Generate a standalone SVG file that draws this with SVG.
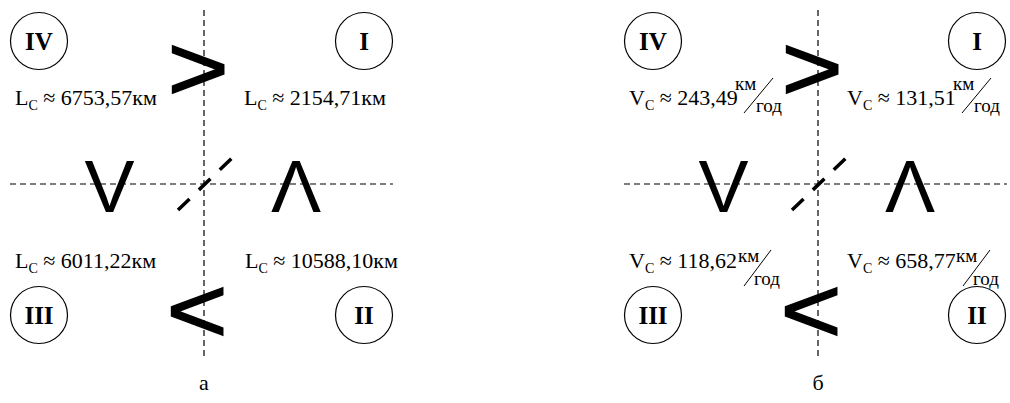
<svg xmlns="http://www.w3.org/2000/svg" width="1010" height="403" viewBox="0 0 1010 403">
<style>
.dash{stroke:#000;stroke-width:1.2;stroke-dasharray:6 4;fill:none}
.diag{stroke:#000;stroke-width:3.5;stroke-dasharray:16 13;fill:none}
.circ{fill:none;stroke:#000;stroke-width:1.2}
.slash{stroke:#000;stroke-width:1;fill:none}
.t{font-family:"Liberation Serif","Times New Roman",serif;font-size:22px;fill:#000}
.s{font-size:14px}
.f{font-family:"Liberation Serif","Times New Roman",serif;font-size:19px;fill:#000}
.rom{font-family:"Liberation Serif","Times New Roman",serif;font-size:25px;font-weight:bold;text-anchor:middle;fill:#000}
.gt{font-family:"Liberation Sans",Arial,sans-serif;font-size:92px;text-anchor:middle;fill:#000;stroke:#000;stroke-width:1.5;stroke-linejoin:miter}
.vv{font-family:"Liberation Sans",Arial,sans-serif;font-size:75px;text-anchor:middle;fill:#000}
.cap{font-family:"Liberation Serif","Times New Roman",serif;font-size:22px;text-anchor:middle;fill:#000}
</style>

<g id="connectors">
  <line class="dash" x1="204" y1="10" x2="204" y2="357"/>
  <line class="dash" x1="10" y1="184" x2="393" y2="184"/>
  <line class="diag" x1="178" y1="210" x2="232" y2="158"/>
  <line class="dash" x1="818" y1="10" x2="818" y2="357"/>
  <line class="dash" x1="624" y1="184" x2="1007" y2="184"/>
  <line class="diag" x1="792" y1="210" x2="846" y2="158"/>
</g>

<!-- panel a -->
<g id="a-IV"><circle class="circ" cx="39" cy="41" r="28.5"/><text class="rom" x="39" y="49.5">IV</text></g>
<g id="a-I"><circle class="circ" cx="364" cy="41" r="28.5"/><text class="rom" x="364" y="49.5">I</text></g>
<g id="a-III"><circle class="circ" cx="39" cy="315" r="28.5"/><text class="rom" x="39" y="323.5">III</text></g>
<g id="a-II"><circle class="circ" cx="364" cy="315" r="28.5"/><text class="rom" x="364" y="323.5">II</text></g>

<g id="a-labels">
  <text class="t" x="15" y="105">L<tspan class="s" dy="5">C</tspan><tspan dy="-5"> ≈ 6753,57км</tspan></text>
  <text class="t" x="244" y="105">L<tspan class="s" dy="5">C</tspan><tspan dy="-5"> ≈ 2154,71км</tspan></text>
  <text class="t" x="15" y="268">L<tspan class="s" dy="5">C</tspan><tspan dy="-5"> ≈ 6011,22км</tspan></text>
  <text class="t" x="245" y="268">L<tspan class="s" dy="5">C</tspan><tspan dy="-5"> ≈ 10588,10км</tspan></text>
</g>

<g id="a-signs">
  <text class="gt" transform="translate(198,0) scale(1.14,1)" x="0" y="100">&gt;</text>
  <text class="gt" transform="translate(197,0) scale(1.14,1)" x="0" y="342">&lt;</text>
  <text class="vv" x="109.5" y="212">V</text>
  <text class="vv" x="296" y="212">Λ</text>
</g>
<text class="cap" x="204" y="390">а</text>

<!-- panel b -->
<g id="b-IV"><circle class="circ" cx="653" cy="41" r="28.5"/><text class="rom" x="653" y="49.5">IV</text></g>
<g id="b-I"><circle class="circ" cx="977" cy="41" r="28.5"/><text class="rom" x="977" y="49.5">I</text></g>
<g id="b-III"><circle class="circ" cx="653" cy="315" r="28.5"/><text class="rom" x="653" y="323.5">III</text></g>
<g id="b-II"><circle class="circ" cx="977" cy="315" r="28.5"/><text class="rom" x="977" y="323.5">II</text></g>

<g id="b-labels">
  <text class="t" x="629" y="105">V<tspan class="s" dy="5">C</tspan><tspan dy="-5"> ≈ 243,49</tspan></text>
  <text class="f" x="735" y="90">км</text>
  <line class="slash" x1="744" y1="113" x2="773" y2="78"/>
  <text class="f" x="756" y="112">год</text>

  <text class="t" x="847" y="105">V<tspan class="s" dy="5">C</tspan><tspan dy="-5"> ≈ 131,51</tspan></text>
  <text class="f" x="953" y="90">км</text>
  <line class="slash" x1="962" y1="113" x2="991" y2="78"/>
  <text class="f" x="974" y="112">год</text>

  <text class="t" x="629" y="268">V<tspan class="s" dy="5">C</tspan><tspan dy="-5"> ≈ 118,62</tspan></text>
  <text class="f" x="738" y="262">км</text>
  <line class="slash" x1="744" y1="286" x2="771" y2="250"/>
  <text class="f" x="754" y="285">год</text>

  <text class="t" x="847" y="268">V<tspan class="s" dy="5">C</tspan><tspan dy="-5"> ≈ 658,77</tspan></text>
  <text class="f" x="956" y="262">км</text>
  <line class="slash" x1="963" y1="286" x2="990" y2="250"/>
  <text class="f" x="973" y="285">год</text>
</g>

<g id="b-signs">
  <text class="gt" transform="translate(812,0) scale(1.14,1)" x="0" y="100">&gt;</text>
  <text class="gt" transform="translate(811,0) scale(1.14,1)" x="0" y="342">&lt;</text>
  <text class="vv" x="723.5" y="212">V</text>
  <text class="vv" x="910" y="212">Λ</text>
</g>
<text class="cap" x="818" y="390">б</text>
</svg>
